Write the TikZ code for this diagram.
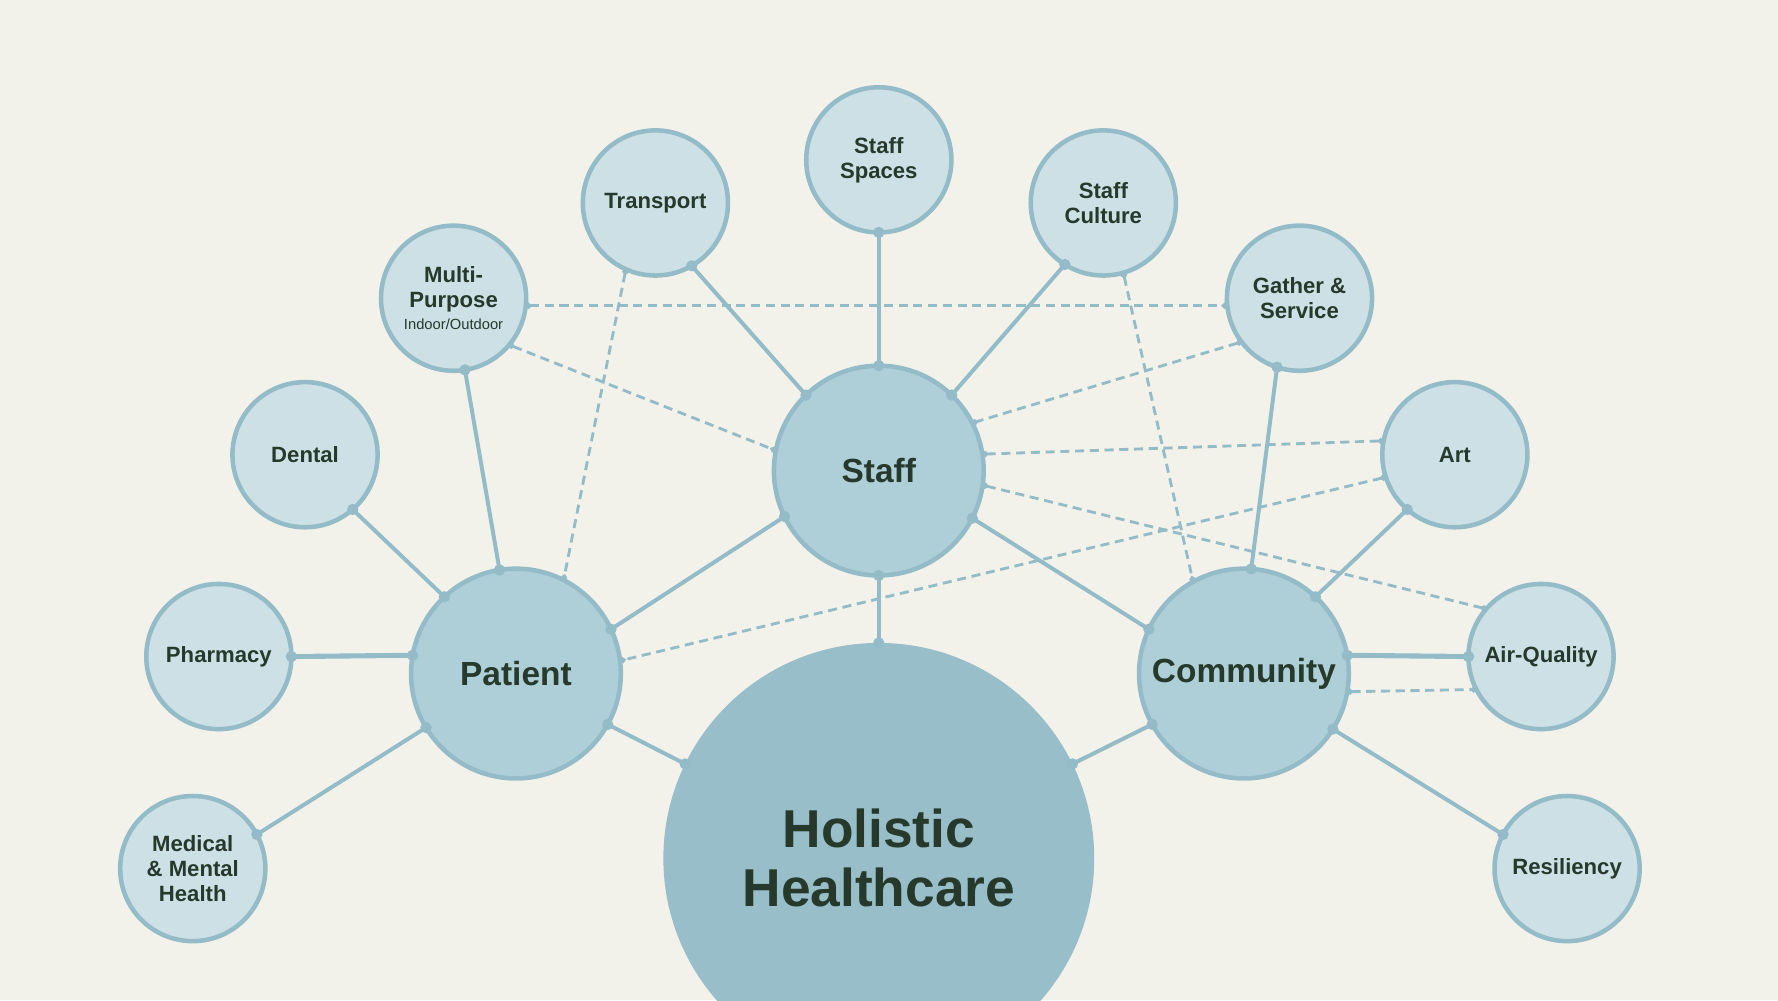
\documentclass[tikz,border=0pt]{standalone}
\usepackage{fontspec}
\setmainfont{Liberation Sans}
\usetikzlibrary{arrows.meta}
\definecolor{bgc}{HTML}{F3F2EA}
\definecolor{smallc}{HTML}{CDE0E6}
\definecolor{midc}{HTML}{AECFD8}
\definecolor{bigc}{HTML}{98BECA}
\definecolor{linec}{HTML}{93BCC8}
\definecolor{txt}{HTML}{26392A}
\pgfdeclarelayer{bg}
\pgfsetlayers{bg,main}
\newcommand\myconn[5][]{\draw[conn,#1] (#2.#3) -- (#4.#5); \fill[linec] (#2.#3) circle[radius=5pt] (#4.#5) circle[radius=5pt];}
\newcommand\mydash[4]{\draw[dconn] (#1.#2) -- (#3.#4);}
\begin{document}
\begin{tikzpicture}[x=1pt,y=1pt,
  smallnode/.style={circle, draw=linec, line width=4pt, fill=smallc, minimum size=128pt, inner sep=0pt, outer sep=0pt, text=txt, font=\fontsize{19.5}{22}\selectfont\bfseries, align=center},
  midnode/.style={circle, draw=linec, line width=4pt, fill=midc, minimum size=185pt, inner sep=0pt, outer sep=0pt, text=txt, font=\fontsize{29.5}{34}\selectfont\bfseries, align=center},
  bignode/.style={circle, fill=bigc, minimum size=380pt, inner sep=0pt, outer sep=0pt, text=txt, font=\fontsize{47}{52}\selectfont\bfseries, align=center},
  conn/.style={draw=linec, line width=3.5pt},
  dconn/.style={draw=linec, line width=2.5pt, dash pattern=on 8pt off 5pt, {Circle[length=5pt]}-{Circle[length=5pt]}}
]
\fill[bgc] (0,0) rectangle (1568,882);
\clip (0,0) rectangle (1568,882);
\useasboundingbox (0,0) rectangle (1568,882);

\node[bignode] (holistic) at (775,125) {Holistic\\Healthcare};
\node[midnode] (staff) at (775,467) {Staff};
\node[midnode] (patient) at (455,288) {Patient};
\node[midnode] (community) at (1097,288) {Community};
\node[smallnode] (spaces) at (775,741) {Staff\\Spaces};
\node[smallnode] (transport) at (578,703) {Transport};
\node[smallnode] (culture) at (973,703) {Staff\\Culture};
\node[smallnode] (multi) at (400,619) {Multi-\\Purpose\\[-3pt]{\fontsize{13}{15}\selectfont\mdseries Indoor/Outdoor}};
\node[smallnode] (gather) at (1146,619) {Gather \&\\Service};
\node[smallnode] (dental) at (269,481) {Dental};
\node[smallnode] (art) at (1283,481) {Art};
\node[smallnode] (pharmacy) at (193,303) {Pharmacy};
\node[smallnode] (air) at (1359,303) {Air-Quality};
\node[smallnode] (medical) at (170,116) {Medical\\\& Mental\\Health};
\node[smallnode] (resil) at (1382,116) {Resiliency};

\begin{pgfonlayer}{bg}
\mydash{patient}{349}{community}{191}
\end{pgfonlayer}

\myconn{staff}{90}{spaces}{270}
\myconn{staff}{134}{transport}{300}
\myconn{staff}{46}{culture}{238}
\myconn{staff}{206}{patient}{25}
\myconn{staff}{333}{community}{155}
\myconn{staff}{270}{holistic}{90}
\myconn{patient}{99}{multi}{279}
\myconn{patient}{133}{dental}{311}
\myconn[line width=4.5pt]{patient}{170}{pharmacy}{0}
\myconn{patient}{211}{medical}{28}
\myconn{patient}{331}{holistic}{154}
\myconn{community}{86}{gather}{252}
\myconn{community}{47}{art}{229}
\myconn[line width=4.5pt]{community}{10}{air}{180}
\myconn{community}{328}{resil}{152}
\myconn{community}{209}{holistic}{26}

\mydash{multi}{354}{gather}{186}
\mydash{multi}{320}{staff}{169}
\mydash{transport}{246}{patient}{63}
\mydash{culture}{286}{community}{119}
\mydash{gather}{217}{staff}{27}
\mydash{staff}{9}{art}{169}
\mydash{staff}{352}{air}{139}
\mydash{art}{198}{patient}{7}
\mydash{community}{350}{air}{207}
\end{tikzpicture}
\end{document}
